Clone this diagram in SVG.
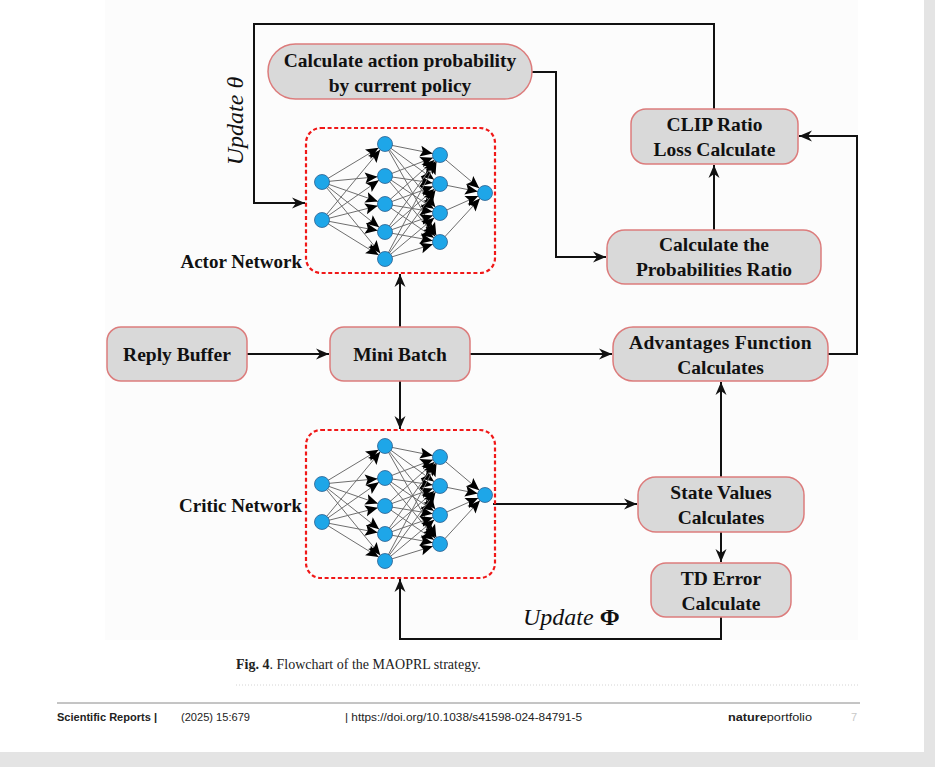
<svg xmlns="http://www.w3.org/2000/svg" xmlns:xlink="http://www.w3.org/1999/xlink" width="935" height="767" viewBox="0 0 935 767">
<style>
.box{fill:#d9d9d9;stroke:#dc7c7c;stroke-width:1.5}
.dash{fill:none;stroke:#f01818;stroke-width:2.2;stroke-dasharray:4 2.6}
.bt{font-family:"Liberation Serif","Times New Roman",serif;font-weight:bold;font-size:19.5px;fill:#111;text-anchor:middle}
.lbl{font-family:"Liberation Serif","Times New Roman",serif;font-weight:bold;font-size:19px;fill:#111;text-anchor:end}
.upd{font-family:"Liberation Serif","Times New Roman",serif;font-style:italic;font-size:24px;fill:#111}
.con{fill:none;stroke:#111;stroke-width:2}
.nl{stroke:#6e6e6e;stroke-width:1;marker-end:url(#na)}
.nd{fill:#1ea6e8;stroke:#2c5f8f;stroke-width:0.8}
.ft{font-family:"Liberation Sans",Arial,sans-serif;font-size:11px;fill:#222}
.cap{font-family:"Liberation Serif","Times New Roman",serif;font-size:14px;fill:#222}
</style>
<defs>
<marker id="ar" markerUnits="userSpaceOnUse" markerWidth="16" markerHeight="12" viewBox="-14 -6 16 12" refX="0" refY="0" orient="auto">
<path d="M0,0 L-13,-5.5 L-9,0 L-13,5.5 z" fill="#111"/>
</marker>
<marker id="na" markerUnits="userSpaceOnUse" markerWidth="28" markerHeight="14" viewBox="-20 -7 28 14" refX="7.5" refY="0" orient="auto">
<path d="M0,0 L-12.5,-5.5 L-10,0 L-12.5,5.5 z" fill="#000"/>
</marker>
<g id="nnet">
<line class="nl" x1="322" y1="182" x2="385" y2="144"/>
<line class="nl" x1="322" y1="182" x2="385" y2="176"/>
<line class="nl" x1="322" y1="182" x2="385" y2="204"/>
<line class="nl" x1="322" y1="182" x2="385" y2="232"/>
<line class="nl" x1="322" y1="182" x2="385" y2="259"/>
<line class="nl" x1="322" y1="220" x2="385" y2="144"/>
<line class="nl" x1="322" y1="220" x2="385" y2="176"/>
<line class="nl" x1="322" y1="220" x2="385" y2="204"/>
<line class="nl" x1="322" y1="220" x2="385" y2="232"/>
<line class="nl" x1="322" y1="220" x2="385" y2="259"/>
<line class="nl" x1="385" y1="144" x2="440" y2="155"/>
<line class="nl" x1="385" y1="144" x2="440" y2="184"/>
<line class="nl" x1="385" y1="144" x2="440" y2="213"/>
<line class="nl" x1="385" y1="144" x2="440" y2="242"/>
<line class="nl" x1="385" y1="176" x2="440" y2="155"/>
<line class="nl" x1="385" y1="176" x2="440" y2="184"/>
<line class="nl" x1="385" y1="176" x2="440" y2="213"/>
<line class="nl" x1="385" y1="176" x2="440" y2="242"/>
<line class="nl" x1="385" y1="204" x2="440" y2="155"/>
<line class="nl" x1="385" y1="204" x2="440" y2="184"/>
<line class="nl" x1="385" y1="204" x2="440" y2="213"/>
<line class="nl" x1="385" y1="204" x2="440" y2="242"/>
<line class="nl" x1="385" y1="232" x2="440" y2="155"/>
<line class="nl" x1="385" y1="232" x2="440" y2="184"/>
<line class="nl" x1="385" y1="232" x2="440" y2="213"/>
<line class="nl" x1="385" y1="232" x2="440" y2="242"/>
<line class="nl" x1="385" y1="259" x2="440" y2="155"/>
<line class="nl" x1="385" y1="259" x2="440" y2="184"/>
<line class="nl" x1="385" y1="259" x2="440" y2="213"/>
<line class="nl" x1="385" y1="259" x2="440" y2="242"/>
<line class="nl" x1="440" y1="155" x2="485" y2="193"/>
<line class="nl" x1="440" y1="184" x2="485" y2="193"/>
<line class="nl" x1="440" y1="213" x2="485" y2="193"/>
<line class="nl" x1="440" y1="242" x2="485" y2="193"/>
<circle class="nd" cx="322" cy="182" r="7.5"/>
<circle class="nd" cx="322" cy="220" r="7.5"/>
<circle class="nd" cx="385" cy="144" r="7.5"/>
<circle class="nd" cx="385" cy="176" r="7.5"/>
<circle class="nd" cx="385" cy="204" r="7.5"/>
<circle class="nd" cx="385" cy="232" r="7.5"/>
<circle class="nd" cx="385" cy="259" r="7.5"/>
<circle class="nd" cx="440" cy="155" r="7.5"/>
<circle class="nd" cx="440" cy="184" r="7.5"/>
<circle class="nd" cx="440" cy="213" r="7.5"/>
<circle class="nd" cx="440" cy="242" r="7.5"/>
<circle class="nd" cx="485" cy="193" r="7.5"/>
</g>
</defs>

<rect x="0" y="0" width="935" height="767" fill="#e4e4e4"/>
<rect x="0" y="0" width="924" height="752" fill="#ffffff"/>
<rect x="105" y="0" width="753" height="640" fill="#fcfcfc"/>

<g id="connectors">
<path class="con" d="M714,109 V24 H254 V203 H305" marker-end="url(#ar)"/>
<path class="con" d="M532,72 H556 V257 H606" marker-end="url(#ar)"/>
<path class="con" d="M714,230 V165" marker-end="url(#ar)"/>
<path class="con" d="M828,354 H857 V136 H799" marker-end="url(#ar)"/>
<path class="con" d="M247,354 H329" marker-end="url(#ar)"/>
<path class="con" d="M470,354 H612" marker-end="url(#ar)"/>
<path class="con" d="M400,327 V274" marker-end="url(#ar)"/>
<path class="con" d="M400,381 V429" marker-end="url(#ar)"/>
<path class="con" d="M493,504 H637" marker-end="url(#ar)"/>
<path class="con" d="M721,477 V382" marker-end="url(#ar)"/>
<path class="con" d="M721,532 V562" marker-end="url(#ar)"/>
<path class="con" d="M721,617 V639 H400 V579" marker-end="url(#ar)"/>
</g>

<g id="update-theta">
<text class="upd" transform="translate(243,121) rotate(-90)" text-anchor="middle">Update θ</text>
</g>
<g id="update-phi">
<text class="upd" x="523" y="625">Update <tspan font-style="normal" font-weight="bold">Φ</tspan></text>
</g>

<g id="actor-network">
<rect class="dash" x="306" y="128" width="189" height="145" rx="15"/>
<use xlink:href="#nnet" href="#nnet"/>
<text class="lbl" x="302" y="268">Actor Network</text>
</g>

<g id="critic-network">
<rect class="dash" x="306" y="430" width="189" height="148" rx="15"/>
<use xlink:href="#nnet" href="#nnet" transform="translate(0,302)"/>
<text class="lbl" x="302" y="512">Critic Network</text>
</g>

<g id="calc-action-prob">
<rect class="box" x="268" y="44" width="264" height="55" rx="27.5"/>
<text class="bt" x="400" y="67">Calculate action probability</text>
<text class="bt" x="400" y="92">by current policy</text>
</g>

<g id="clip-ratio">
<rect class="box" x="631" y="109" width="167" height="55" rx="15"/>
<text class="bt" x="714.5" y="131">CLIP Ratio</text>
<text class="bt" x="714.5" y="156">Loss Calculate</text>
</g>

<g id="prob-ratio">
<rect class="box" x="607" y="230" width="214" height="54" rx="18"/>
<text class="bt" x="714" y="251">Calculate the</text>
<text class="bt" x="714" y="276">Probabilities Ratio</text>
</g>

<g id="reply-buffer">
<rect class="box" x="107" y="327" width="140" height="54" rx="14"/>
<text class="bt" x="177" y="361">Reply Buffer</text>
</g>

<g id="mini-batch">
<rect class="box" x="330" y="327" width="140" height="54" rx="14"/>
<text class="bt" x="400" y="361">Mini Batch</text>
</g>

<g id="advantages">
<rect class="box" x="613" y="327" width="215" height="54" rx="20"/>
<text class="bt" x="720.5" y="348.5" letter-spacing="0.3">Advantages Function</text>
<text class="bt" x="720.5" y="373.5">Calculates</text>
</g>

<g id="state-values">
<rect class="box" x="638" y="477" width="166" height="55" rx="18"/>
<text class="bt" x="721" y="499">State Values</text>
<text class="bt" x="721" y="524">Calculates</text>
</g>

<g id="td-error">
<rect class="box" x="651" y="563" width="140" height="54" rx="15"/>
<text class="bt" x="721" y="585">TD Error</text>
<text class="bt" x="721" y="609.5">Calculate</text>
</g>

<g id="caption">
<text class="cap" x="236" y="669"><tspan font-weight="bold">Fig. 4</tspan>.  Flowchart of the MAOPRL strategy.</text>
<line x1="236" y1="685" x2="860" y2="685" stroke="#d4d4d4" stroke-width="1" stroke-dasharray="1 2"/>
</g>

<g id="footer">
<line x1="57" y1="703" x2="860" y2="703" stroke="#8a8a8a" stroke-width="1"/>
<text class="ft" x="57" y="721" font-weight="bold" textLength="100" lengthAdjust="spacingAndGlyphs">Scientific Reports |</text>
<text class="ft" x="181" y="721" textLength="69" lengthAdjust="spacingAndGlyphs">(2025) 15:679</text>
<text class="ft" x="345" y="721" textLength="237" lengthAdjust="spacingAndGlyphs">| https://doi.org/10.1038/s41598-024-84791-5</text>
<text class="ft" x="728" y="721" textLength="84" lengthAdjust="spacingAndGlyphs"><tspan font-weight="bold">nature</tspan>portfolio</text>
<text class="ft" x="851" y="721" style="fill:#c8c8c8">7</text>
</g>
</svg>
